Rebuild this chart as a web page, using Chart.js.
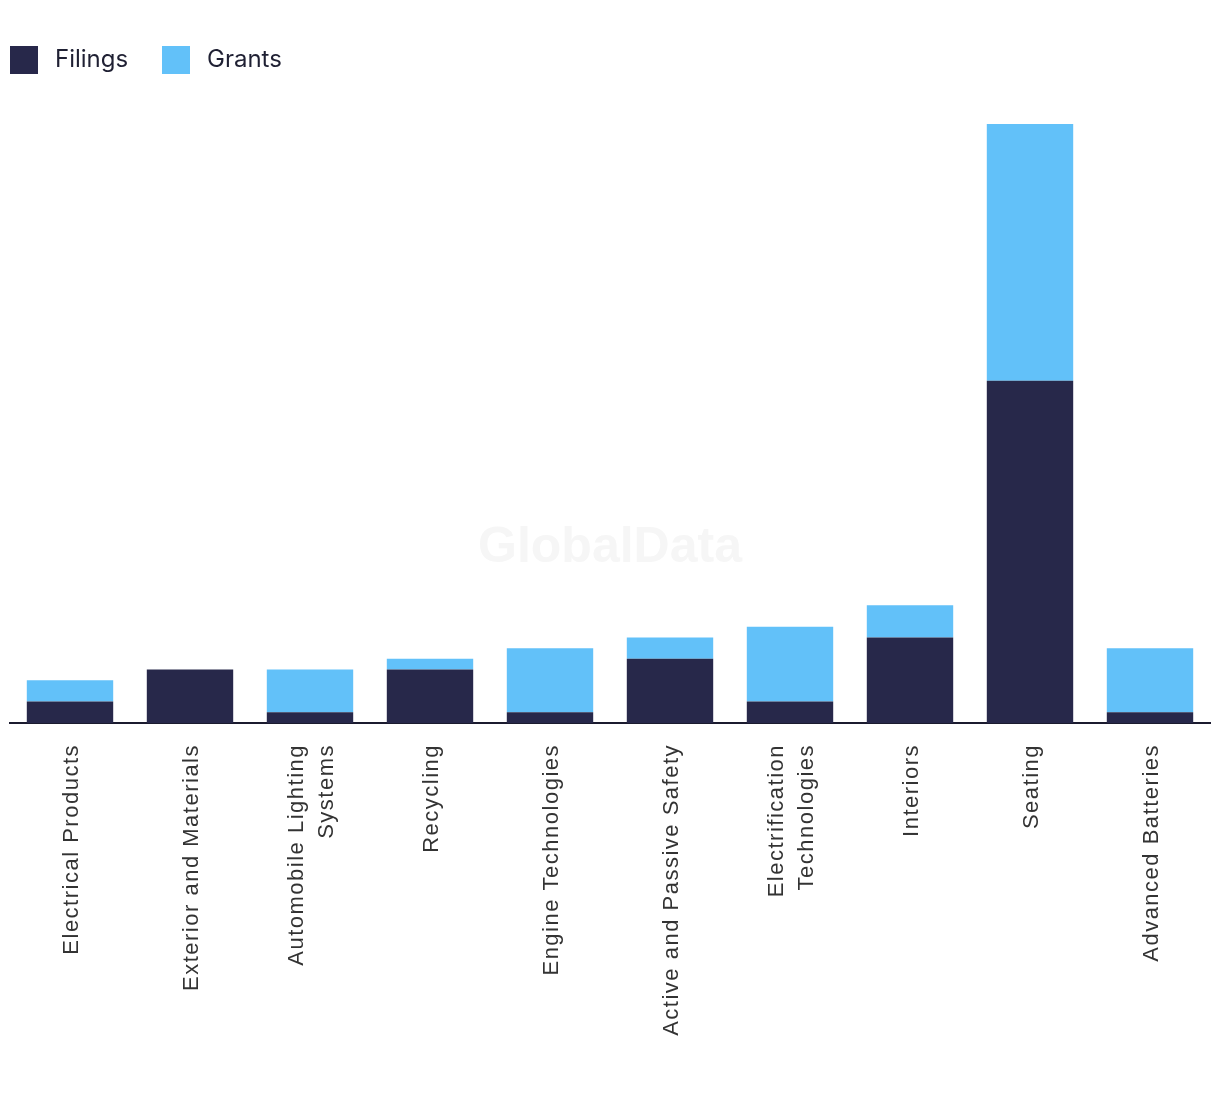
<!DOCTYPE html>
<html>
<head>
<meta charset="utf-8">
<script src="https://cdn.jsdelivr.net/npm/chart.js@4.4.0/dist/chart.umd.min.js"></script>
<style>
  html, body { margin: 0; padding: 0; background: #fff; }
  #wrap { width: 1220px; height: 1094px; position: relative; }
  #c { position: absolute; left: 0; top: 0; }
  .lg { position: absolute; top: 46px; height: 28px; display: flex; align-items: center;
        font-family: Inter, "Liberation Sans", sans-serif; font-size: 24px; color: #1f2033; }
  .lg .box { width: 28px; height: 28px; margin-right: 17px; flex: none; }
  .lg .txt { position: relative; top: -2px; }
</style>
</head>
<body>
<div id="wrap">
  <canvas id="c" width="1220" height="1094"></canvas>
  <div id="legend"></div>
</div>
<script>
const categories = [
  "Electrical Products",
  "Exterior and Materials",
  ["Automobile Lighting", "Systems"],
  "Recycling",
  "Engine Technologies",
  "Active and Passive Safety",
  ["Electrification", "Technologies"],
  "Interiors",
  "Seating",
  "Advanced Batteries"
];
const seriesNames = ["Filings", "Grants"];
const seriesColors = ["#27284a", "#62c1f9"];
const filings = [2, 5, 1, 5, 1, 6, 2, 8, 32, 1];
const grants  = [2, 0, 4, 1, 6, 2, 7, 3, 24, 6];

// HTML legend
const legendLefts = [10, 162];
const lg = document.getElementById('legend');
seriesNames.forEach((n, i) => {
  const d = document.createElement('div');
  d.className = 'lg';
  d.style.left = legendLefts[i] + 'px';
  d.innerHTML = '<span class="box" style="background:' + seriesColors[i] + '"></span><span class="txt">' + n + '</span>';
  lg.appendChild(d);
});

const LS = '1.5px';
const spacing = {
  id: 'spacing',
  beforeInit(chart) { chart.ctx.letterSpacing = LS; },
  beforeUpdate(chart) { chart.ctx.letterSpacing = LS; },
  beforeDraw(chart) {
    chart.ctx.letterSpacing = LS;
    // centre multi-line rotated labels on their tick
    const s = chart.scales.x;
    const items = s.getLabelItems();
    if (items && !items._shifted) {
      items.forEach(it => {
        const tr = (it.options && it.options.translation) || it.translation;
        if (!tr) return;
        const lines = Array.isArray(it.label) ? it.label.length : 1;
        const lh = (it.font && it.font.lineHeight) || 30;
        tr[0] += 2 - (lines - 1) * lh / 2;
      });
      items._shifted = true;
    }
  }
};

const watermark = {
  id: 'watermark',
  beforeDatasetsDraw(chart) {
    const ctx = chart.ctx;
    ctx.save();
    ctx.letterSpacing = '0px';
    ctx.font = 'bold 50px "Liberation Sans", Arial, sans-serif';
    ctx.fillStyle = '#f6f6f6';
    ctx.textAlign = 'center';
    ctx.textBaseline = 'middle';
    ctx.fillText('GlobalData', 610, 548);
    ctx.restore();
  }
};

new Chart(document.getElementById('c'), {
  type: 'bar',
  data: {
    labels: categories,
    datasets: [
      { label: seriesNames[0], data: filings, backgroundColor: seriesColors[0], borderWidth: 0 },
      { label: seriesNames[1], data: grants, backgroundColor: seriesColors[1], borderWidth: 0 }
    ]
  },
  options: {
    responsive: false,
    animation: false,
    layout: { padding: { top: 124, left: 10, right: 10, bottom: 0 } },
    plugins: {
      legend: { display: false },
      tooltip: { enabled: false }
    },
    scales: {
      x: {
        stacked: true,
        categoryPercentage: 1.0,
        barPercentage: 0.69,
        grid: { display: false, drawTicks: false },
        border: { display: true, color: '#1b1b2f', width: 2 },
        ticks: {
          maxRotation: 90,
          minRotation: 90,
          padding: 21,
          color: '#333333',
          font: { family: '"Liberation Sans", Arial, sans-serif', size: 22, lineHeight: 1.36 }
        },
        afterFit(scale) { scale.height = 1094 - 723; }
      },
      y: {
        stacked: true,
        display: false,
        min: 0,
        max: 56
      }
    }
  },
  plugins: [spacing, watermark]
});
</script>
</body>
</html>
